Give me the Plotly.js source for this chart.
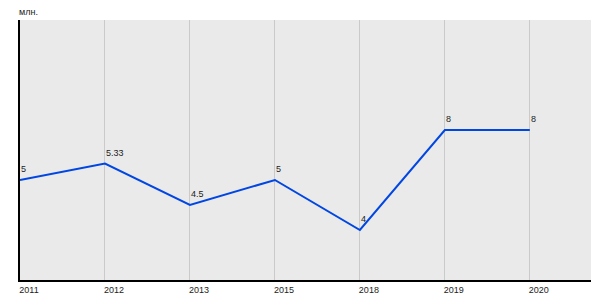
<!DOCTYPE html>
<html>
<head>
<meta charset="utf-8">
<script src="https://cdn.plot.ly/plotly-3.0.1.min.js"></script>
<style>html,body{margin:0;padding:0;background:#fff;}#chart{width:600px;height:300px;}</style>
</head>
<body>
<div id="chart"></div>
<script>
const years = ["2011", "2012", "2013", "2015", "2018", "2019", "2020"];
const values = [5, 5.33, 4.5, 5, 4, 6, 6];
const labels = ["5", "5.33", "4.5", "5", "4", "8", "8"];
const unitLabel = "млн.";

const FONT = "Liberation Sans, Arial, sans-serif";

const trace = {
  type: "scatter",
  mode: "lines",
  x: years,
  y: values,
  line: {color: "#0046e2", width: 2},
  hoverinfo: "none"
};

// category axis: annotation x given as category index
const annotations = years.map((yr, i) => ({
  x: i, y: values[i], xref: "x", yref: "y",
  text: labels[i], showarrow: false,
  xanchor: "left", yanchor: "bottom",
  xshift: -1, yshift: 4,
  font: {family: FONT, size: 9, color: "#222"}
}));

const layout = {
  width: 600, height: 300,
  margin: {l: 20, r: 9, t: 20, b: 20},
  paper_bgcolor: "#ffffff",
  plot_bgcolor: "#eaeaea",
  showlegend: false,
  font: {family: FONT, size: 9, color: "#222"},
  title: {text: unitLabel, x: 19/600, xanchor: "left", xref: "container", y: 1 - 12/300, yanchor: "middle",
          pad: {l: 0, r: 0, t: 0, b: 0},
          font: {family: FONT, size: 9, color: "#222"}},
  annotations: annotations,
  xaxis: {
    type: "category",
    range: [0, 6.72],
    showgrid: true, gridcolor: "#cacaca", gridwidth: 1,
    showline: true, linecolor: "#000", linewidth: 2,
    ticks: "", ticklabelshift: 9, ticklabelstandoff: 0,
    tickfont: {size: 9, color: "#222"},
    zeroline: false, fixedrange: true
  },
  yaxis: {
    range: [3, 8.2],
    showgrid: false, showticklabels: false,
    showline: true, linecolor: "#000", linewidth: 2,
    ticks: "", zeroline: false, fixedrange: true
  }
};

Plotly.newPlot("chart", [trace], layout, {staticPlot: true, displayModeBar: false});
</script>
</body>
</html>
